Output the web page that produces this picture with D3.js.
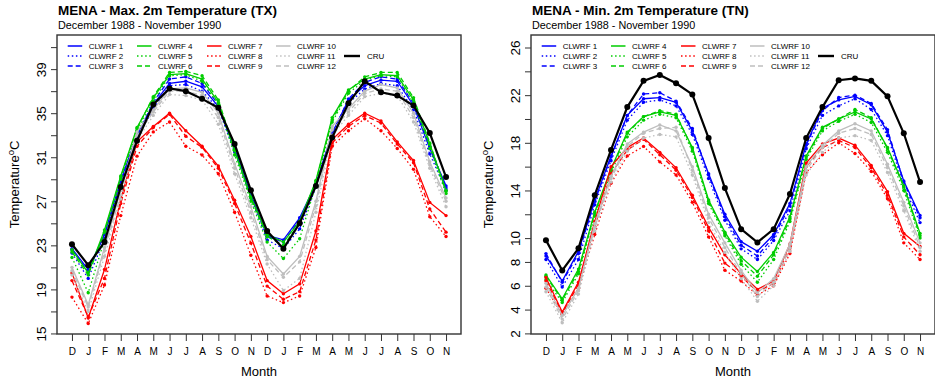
<!DOCTYPE html>
<html><head><meta charset="utf-8">
<script src="https://cdn.jsdelivr.net/npm/d3@7"></script>
<style>
body{margin:0;background:#fff;}
svg{display:block;font-family:"Liberation Sans",Arial,Helvetica,sans-serif;}
</style></head><body>
<svg id="c" width="935" height="381"></svg>
<script>
// ---------- data ----------
const months = ["D","J","F","M","A","M","J","J","A","S","O","N","D","J","F","M","A","M","J","J","A","S","O","N"];
const seriesNames = ["CLWRF 1","CLWRF 2","CLWRF 3","CLWRF 4","CLWRF 5","CLWRF 6","CLWRF 7","CLWRF 8","CLWRF 9","CLWRF 10","CLWRF 11","CLWRF 12"];
const seriesColors = ["#0000FF","#0000FF","#0000FF","#00CD00","#00CD00","#00CD00","#FF0000","#FF0000","#FF0000","#BEBEBE","#BEBEBE","#BEBEBE"];
const seriesStyles = ["solid","dotted","dashed","solid","dotted","dashed","solid","dotted","dashed","solid","dotted","dashed"];

const txTicks = [15,17,19,21,23,25,27,29,31,33,35,37,39,41];
const txTickLabels = [15,19,23,27,31,35,39];
const tnTicks = [2,4,6,8,10,12,14,16,18,20,22,24,26];
const tnTickLabels = [2,4,6,8,10,14,18,22,26];

// Max temperature (TX)
const txCLWRF1  = [22.7,20.8,24.0,28.9,33.0,35.8,37.7,37.9,37.4,35.6,31.8,27.6,23.9,23.5,25.5,28.6,33.2,36.2,37.5,38.0,37.9,35.7,31.8,28.4];
const txCLWRF2  = [22.3,20.0,23.6,28.5,32.7,35.4,37.5,37.6,37.0,35.4,31.5,27.3,23.5,22.7,24.5,28.3,32.9,35.9,37.2,37.7,37.5,35.3,31.3,28.0];
const txCLWRF3  = [22.6,20.6,24.0,28.7,32.9,36.0,38.1,38.3,37.7,35.8,31.9,27.7,23.8,23.3,25.3,28.5,33.1,36.3,37.8,38.3,38.1,35.9,32.0,28.2];
const txCLWRF4  = [22.6,20.5,24.4,29.3,33.7,36.4,38.5,38.6,38.1,36.0,31.6,27.4,24.0,23.3,25.2,28.9,34.6,37.1,38.1,38.5,38.4,36.2,32.2,28.0];
const txCLWRF5  = [21.9,18.7,23.5,29.0,33.4,36.1,38.4,38.5,37.9,35.8,31.2,27.0,23.3,21.8,23.6,28.5,34.2,36.8,38.0,38.4,38.3,35.9,31.8,27.7];
const txCLWRF6  = [22.4,20.3,24.2,29.2,33.6,36.5,38.7,38.8,38.4,36.2,31.7,27.3,23.8,23.0,25.0,28.8,34.4,37.0,38.3,38.7,38.7,36.4,32.3,27.9];
const txCLWRF7  = [20.5,16.4,20.8,27.2,32.4,33.8,35.0,33.4,32.0,30.2,27.1,23.8,19.8,18.6,19.5,24.3,32.6,34.0,35.0,34.3,32.4,30.7,26.9,25.7];
const txCLWRF8  = [18.3,15.9,19.4,25.7,31.1,33.3,34.2,32.0,31.2,29.5,26.0,22.1,18.4,17.8,18.4,22.8,32.0,33.4,34.5,33.4,31.8,29.9,25.6,23.8];
const txCLWRF9  = [19.8,16.5,20.0,26.8,32.0,33.7,34.9,32.9,31.9,30.0,26.8,23.2,19.3,18.1,18.8,23.5,32.3,33.8,34.8,34.1,32.2,30.5,26.3,24.2];
const txCLWRF10 = [21.0,17.6,22.8,28.0,33.3,35.3,37.2,37.3,36.9,35.0,30.4,26.5,22.0,20.4,22.0,27.0,33.8,35.4,37.0,37.6,37.3,35.0,30.6,27.3];
const txCLWRF11 = [20.3,17.0,22.0,27.2,32.5,34.8,36.7,36.6,36.2,34.0,29.5,25.5,21.3,18.9,20.0,26.0,33.0,34.8,36.5,36.8,36.6,34.2,30.0,26.5];
const txCLWRF12 = [20.7,17.4,22.5,27.6,33.0,35.1,37.0,37.0,36.6,34.6,30.0,26.0,21.7,20.1,21.5,26.6,33.5,35.1,36.8,37.2,37.0,34.6,30.3,27.0];
const txCRU     = [23.1,21.2,23.3,28.3,32.5,35.8,37.25,37.0,36.3,35.5,32.2,28.0,24.3,22.7,25.0,28.4,32.8,35.9,37.9,36.9,36.6,35.7,33.2,29.2];

// Min temperature (TN)
const tnCLWRF1  = [8.5,6.4,8.9,13.2,16.9,20.3,21.7,21.8,21.4,19.0,15.4,12.0,9.7,8.9,10.3,12.9,17.9,20.9,21.6,21.9,21.2,18.9,14.8,11.9];
const tnCLWRF2  = [8.2,5.9,8.2,12.8,16.5,19.9,21.4,21.6,21.1,18.7,15.0,11.5,9.1,8.2,9.8,12.3,17.5,20.3,21.1,21.7,20.8,18.6,14.4,11.3];
const tnCLWRF3  = [8.7,6.3,8.7,13.1,16.8,20.3,22.1,22.2,21.5,19.2,15.3,11.8,9.4,8.5,10.1,12.7,17.8,20.7,21.8,22.0,21.3,19.1,14.7,11.7];
const tnCLWRF4  = [6.9,4.9,7.4,12.2,15.8,18.9,20.2,20.6,20.3,17.6,13.2,10.5,8.4,7.2,8.8,11.8,16.9,19.3,20.0,20.6,20.0,17.6,14.4,10.4];
const tnCLWRF5  = [6.5,4.6,7.0,11.9,15.5,18.5,19.9,20.4,20.1,17.3,12.9,10.2,7.8,6.3,8.2,11.4,16.6,19.0,19.8,20.4,19.7,17.2,14.0,10.0];
const tnCLWRF6  = [6.8,4.8,7.2,12.1,15.7,18.8,20.2,20.7,20.4,17.5,13.1,10.4,8.1,6.8,8.6,11.6,16.8,19.2,20.0,20.8,20.1,17.5,14.3,10.2];
const tnCLWRF7  = [6.7,3.8,6.3,11.4,16.0,17.6,18.4,17.2,15.9,13.6,10.9,8.6,7.0,5.7,6.4,9.5,16.3,17.9,18.4,17.8,16.1,13.9,10.4,9.3];
const tnCLWRF8  = [5.8,3.6,5.8,10.3,14.6,16.9,17.7,16.4,15.3,13.0,10.1,7.3,6.4,5.2,6.0,8.7,15.5,17.0,18.0,17.1,15.6,13.3,9.6,8.2];
const tnCLWRF9  = [6.4,3.7,6.1,11.0,15.4,17.4,18.3,17.0,15.7,13.4,10.6,7.9,6.8,5.5,6.2,9.2,16.0,17.6,18.2,17.6,15.9,13.6,10.1,8.6];
const tnCLWRF10 = [6.2,3.5,5.8,11.2,15.2,17.9,18.9,19.5,19.0,16.0,12.0,9.6,7.3,5.4,6.6,9.5,16.0,17.8,19.0,19.6,19.0,16.2,13.0,9.6];
const tnCLWRF11 = [5.5,2.9,5.3,10.6,14.7,17.3,18.4,18.7,18.5,15.3,11.3,8.8,6.6,4.7,6.0,8.9,15.3,17.2,18.4,18.6,18.2,15.5,12.3,8.9];
const tnCLWRF12 = [5.9,3.2,5.6,10.9,15.0,17.7,18.8,19.2,19.3,15.7,11.7,9.2,7.0,5.1,6.3,9.2,15.7,17.6,18.8,19.2,18.7,15.9,12.7,9.2];
const tnCRU     = [9.83,7.28,9.14,13.6,17.4,21.0,23.2,23.7,23.0,22.06,18.4,14.2,10.75,9.64,10.75,13.7,18.4,21.0,23.25,23.4,23.2,21.9,18.8,14.7];

const txSeries = [txCLWRF1,txCLWRF2,txCLWRF3,txCLWRF4,txCLWRF5,txCLWRF6,txCLWRF7,txCLWRF8,txCLWRF9,txCLWRF10,txCLWRF11,txCLWRF12];
const tnSeries = [tnCLWRF1,tnCLWRF2,tnCLWRF3,tnCLWRF4,tnCLWRF5,tnCLWRF6,tnCLWRF7,tnCLWRF8,tnCLWRF9,tnCLWRF10,tnCLWRF11,tnCLWRF12];

// ---------- drawing ----------
const svg = d3.select("#c");
const dashFor = s => s === "dotted" ? "1.5,2.6" : (s === "dashed" ? "5,3" : null);

function drawPanel(cfg) {
  const top = 35, bottom = 334;
  const left = cfg.left, right = cfg.right;
  const g = svg.append("g");
  const x = d3.scaleLinear().domain([-0.92, 23.92]).range([left, right]);
  const y = d3.scaleLinear().domain(cfg.yDomain).range([bottom, top]);

  // titles
  g.append("text").attr("x", left + 1).attr("y", 15)
    .style("font-weight", "bold").style("font-size", "13.5px").text(cfg.title);
  g.append("text").attr("x", left + 1).attr("y", 29.3)
    .style("font-size", "10.8px").text("December 1988 - November 1990");

  // series
  const line = d3.line().x((d, i) => x(i)).y(d => y(d));
  cfg.series.forEach((vals, k) => {
    g.append("path").datum(vals).attr("d", line)
      .attr("fill", "none").attr("stroke", seriesColors[k]).attr("stroke-width", 1.3)
      .attr("stroke-dasharray", dashFor(seriesStyles[k]));
    g.append("g").selectAll("circle").data(vals).join("circle")
      .attr("cx", (d, i) => x(i)).attr("cy", d => y(d)).attr("r", 1.7)
      .attr("fill", seriesColors[k]);
  });
  // CRU
  g.append("path").datum(cfg.cru).attr("d", line)
    .attr("fill", "none").attr("stroke", "#000").attr("stroke-width", 2.2);
  g.append("g").selectAll("circle").data(cfg.cru).join("circle")
    .attr("cx", (d, i) => x(i)).attr("cy", d => y(d)).attr("r", 3).attr("fill", "#000");

  // axes
  const xAxis = d3.axisBottom(x).tickValues(d3.range(months.length))
    .tickFormat(i => months[i]).tickSize(7).tickSizeOuter(0);
  const gx = g.append("g").attr("transform", `translate(0,${bottom})`).call(xAxis);
  gx.select(".domain").remove();
  gx.selectAll(".tick line").attr("stroke", "#333");
  gx.selectAll("text").attr("y", 21).attr("dy", 0)
    .style("font-size", "10px").style("font-family", "inherit").attr("fill", "#000");

  const yAxis = d3.axisLeft(y).tickValues(cfg.ticks)
    .tickFormat(v => cfg.tickLabels.includes(v) ? String(v) : "").tickSize(6).tickSizeOuter(0);
  const gy = g.append("g").attr("transform", `translate(${left},0)`).call(yAxis);
  gy.select(".domain").remove();
  gy.selectAll(".tick line").attr("stroke", "#333");
  gy.selectAll("text").attr("transform", "rotate(-90)").attr("x", 0).attr("y", -11).attr("dy", 0)
    .style("text-anchor", "middle").style("font-size", "13.5px").style("font-family", "inherit").attr("fill", "#000");

  // box
  g.append("rect").attr("x", left).attr("y", top).attr("width", right - left).attr("height", bottom - top)
    .attr("fill", "none").attr("stroke", "#333").attr("stroke-width", 1.4);

  // axis titles
  g.append("text").attr("x", (left + right) / 2).attr("y", 376).attr("text-anchor", "middle")
    .style("font-size", "13px").text("Month");
  const yt = g.append("text").attr("transform", `translate(${left - 38.4},${(top + bottom) / 2}) rotate(-90)`)
    .attr("text-anchor", "middle").style("font-size", "13px");
  yt.append("tspan").text("Temperature");
  yt.append("tspan").attr("dy", -5).style("font-size", "9.5px").text("o");
  yt.append("tspan").attr("dy", 5).text("C");

  // legend
  const rows = [46, 56, 66];
  const cols = [31.7, 101, 171, 240];
  seriesNames.forEach((name, k) => {
    const cx = left + cols[Math.floor(k / 3)];
    const cy = rows[k % 3];
    g.append("line").attr("x1", cx - 21).attr("x2", cx - 6.5).attr("y1", cy).attr("y2", cy)
      .attr("stroke", seriesColors[k]).attr("stroke-width", 1.5).attr("stroke-dasharray", dashFor(seriesStyles[k]));
    g.append("text").attr("x", cx).attr("y", cy + 2.9).style("font-size", "8px").text(name);
  });
  const crx = left + 310;
  g.append("line").attr("x1", crx - 23).attr("x2", crx - 7).attr("y1", rows[1]).attr("y2", rows[1])
    .attr("stroke", "#000").attr("stroke-width", 2.4);
  g.append("text").attr("x", crx).attr("y", rows[1] + 2.9).style("font-size", "8px").text("CRU");
}

drawPanel({left: 57, right: 461, yDomain: [14.95, 42.1], ticks: txTicks, tickLabels: txTickLabels,
  series: txSeries, cru: txCRU, title: "MENA - Max. 2m Temperature (TX)"});
drawPanel({left: 531, right: 935, yDomain: [1.95, 27.05], ticks: tnTicks, tickLabels: tnTickLabels,
  series: tnSeries, cru: tnCRU, title: "MENA - Min. 2m Temperature (TN)"});
</script>
</body></html>
